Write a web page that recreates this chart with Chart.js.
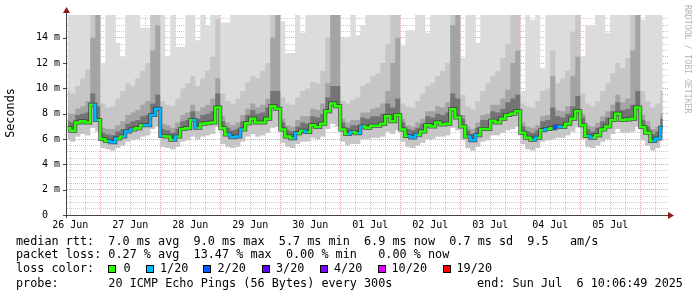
<!DOCTYPE html>
<html lang="en">
<head>
<meta charset="UTF-8">
<title>smokeping median rtt</title>
<script src="https://cdn.jsdelivr.net/npm/chart.js"></script>
<style>
  body { margin: 0; background: #fff; }
  #wrap { position: relative; width: 697px; height: 297px; }
  canvas { position: absolute; left: 0; top: 0; }
  .txt { position: absolute; font-family: 'DejaVu Sans Mono', monospace; font-size: 11.8px; line-height: 14px; white-space: pre; color: #000; }
  .box { position: absolute; top: 265px; width: 8px; height: 8px; box-sizing: border-box; border: 1px solid #000; }
</style>
</head>
<body>
<div id="wrap">
  <canvas id="smoke" width="697" height="297"></canvas>
  <div class="txt" style="left:16px;top:234px">median rtt:  7.0 ms avg  9.0 ms max  5.7 ms min  6.9 ms now  0.7 ms sd  9.5   am/s</div>
  <div class="txt" style="left:16px;top:247px">packet loss: 0.27 % avg  13.47 % max  0.00 % min   0.00 % now</div>
  <div class="txt" style="left:16px;top:261px">loss color:</div>
  <div id="losslegend"></div>
  <div class="txt" style="left:16px;top:276px">probe:       20 ICMP Echo Pings (56 Bytes) every 300s</div>
  <div class="txt" style="left:477px;top:276px">end: Sun Jul  6 10:06:49 2025</div>
</div>
<script>
// hours since 26 Jun 00:00 (one sample per 2 h)
const hours = [11,13,15,17,19,21,23,
  25,27,29,31,33,35,37,39,41,43,45,47,
  49,51,53,55,57,59,61,63,65,67,69,71,
  73,75,77,79,81,83,85,87,89,91,93,95,
  97,99,101,103,105,107,109,111,113,115,117,119,
  121,123,125,127,129,131,133,135,137,139,141,143,
  145,147,149,151,153,155,157,159,161,163,165,167,
  169,171,173,175,177,179,181,183,185,187,189,191,
  193,195,197,199,201,203,205,207,209,211,213,215,
  217,219,221,223,225,227,229,231,233,235,237,239,
  241,243,245,247,249];

const dayLabels = ['26 Jun','27 Jun','28 Jun','29 Jun','30 Jun','01 Jul','02 Jul','03 Jul','04 Jul','05 Jul'];

// median rtt (ms)
const median = [6.85,6.65,7.3,7.4,7.3,8.7,7.5,
  6.0,5.85,5.75,6.05,6.2,6.6,6.75,6.85,7.1,7.1,7.9,8.4,
  6.25,6.2,5.95,6.2,6.8,6.85,7.5,6.9,7.2,7.25,7.3,8.5,
  6.85,6.35,6.15,6.2,6.75,7.25,7.6,7.3,7.3,7.6,8.6,8.4,
  6.75,6.2,6.07,6.45,6.65,6.55,7.1,6.95,7.2,8.2,8.8,8.6,
  6.75,6.4,6.55,6.45,7.0,6.9,7.05,7.05,7.2,7.8,7.4,7.9,
  6.75,6.25,6.12,6.33,6.6,7.1,7.0,7.3,7.15,7.2,8.35,7.7,
  7.0,6.2,5.9,6.3,6.8,6.8,7.45,7.3,7.6,7.9,8.0,8.2,
  6.5,6.1,5.95,6.1,6.7,6.8,6.85,7.0,6.95,7.2,7.6,8.2,
  7.1,6.25,6.1,6.3,6.75,7.0,7.5,8.0,7.5,7.55,7.6,8.5,
  6.95,6.5,5.85,6.05,6.9];

// lost pings out of 20
const lossPings = [0,0,0,0,0,1,0,
  0,1,1,0,1,1,0,0,1,1,1,1,
  0,0,1,0,0,0,1,0,0,0,0,0,
  0,1,1,1,0,0,0,0,0,0,0,0,
  0,0,1,0,1,0,0,0,0,0,0,0,
  0,1,0,1,0,0,0,0,0,0,0,0,
  0,1,1,0,0,0,0,0,0,0,0,0,
  0,1,1,0,0,0,0,0,0,0,0,0,
  0,0,1,0,1,0,2,1,0,0,0,0,
  0,1,0,0,0,0,0,0,0,0,0,0,
  0,0,1,1,0];

// smoke: lowest ping
const smokeLow = [6.0,5.8,6.2,6.4,6.3,6.9,6.6,
  5.3,5.2,5.1,5.3,5.5,5.8,5.9,6.0,6.2,6.3,6.8,7.0,
  5.4,5.3,5.2,5.4,5.8,5.9,6.2,6.0,6.2,6.3,6.4,7.0,
  5.6,5.4,5.3,5.4,5.8,6.2,6.4,6.2,6.3,6.5,6.9,7.0,
  5.7,5.4,5.3,5.6,5.8,5.8,6.1,6.0,6.2,6.8,7.2,7.0,
  5.8,5.5,5.6,5.6,6.0,6.0,6.1,6.1,6.2,6.6,6.4,6.7,
  5.8,5.4,5.3,5.5,5.7,6.0,6.0,6.2,6.2,6.3,6.9,6.7,
  5.9,5.3,5.1,5.4,5.8,5.9,6.3,6.3,6.5,6.7,6.8,7.0,
  5.6,5.2,5.1,5.3,5.8,5.9,6.0,6.1,6.1,6.3,6.6,7.0,
  6.0,5.4,5.3,5.5,5.8,6.0,6.4,6.8,6.5,6.5,6.6,7.0,
  5.9,5.5,5.1,5.3,6.0];

// smoke: top of the darkest part just above the median
const smokeCore = [7.4,7.3,7.9,8.0,8.1,9.6,8.6,
  6.5,6.35,6.3,6.6,6.8,7.2,7.4,7.5,7.8,7.9,8.8,9.5,
  6.8,6.7,6.5,6.8,7.4,7.5,8.2,7.6,7.9,8.0,8.2,9.6,
  7.4,6.9,6.7,6.8,7.4,7.9,8.3,8.0,8.1,8.5,9.8,9.8,
  7.3,6.7,6.6,7.0,7.3,7.2,7.8,7.7,8.0,9.3,10.2,10.2,
  7.3,6.9,7.1,7.1,7.7,7.6,7.8,7.8,8.0,8.8,8.5,9.2,
  7.3,6.8,6.7,6.9,7.2,7.8,7.7,8.0,7.9,8.1,9.6,9.2,
  7.6,6.7,6.4,6.9,7.5,7.5,8.2,8.1,8.4,8.9,9.2,9.5,
  7.0,6.6,6.5,6.7,7.4,7.5,8.5,7.8,7.7,8.0,8.6,9.4,
  7.7,6.8,6.6,6.9,7.4,7.7,8.2,8.9,8.3,8.4,8.7,9.8,
  7.5,7.0,6.4,6.6,7.6];

// smoke: top of the dark grey part
const smokeDark = [8.0,8.0,8.4,8.6,9.0,14.0,16,
  6.9,6.8,6.8,7.1,7.4,7.9,8.1,8.3,8.7,9.0,13.0,15.0,
  7.2,7.1,6.9,7.3,7.9,8.1,8.7,8.2,8.5,8.7,9.2,10.8,
  7.8,7.3,7.1,7.3,7.9,8.4,8.8,8.5,8.7,9.2,14.0,16,
  7.6,7.1,7.0,7.5,7.8,7.8,8.4,8.3,8.8,10.4,16,16,
  7.6,7.3,7.5,7.5,8.1,8.1,8.4,8.5,8.8,9.8,12.0,14.0,
  7.6,7.1,7.0,7.3,7.6,8.2,8.2,8.6,8.5,8.9,15.0,16,
  7.9,7.0,6.8,7.3,7.9,8.0,8.7,8.7,9.2,9.9,12.0,13.0,
  7.3,7.0,6.9,7.1,7.8,7.9,11.0,8.3,8.2,8.6,11.0,12.5,
  8.0,7.1,7.0,7.3,7.8,8.2,8.7,9.5,8.9,9.2,13.0,16,
  7.9,7.4,6.8,7.0,8.0];

// smoke: top of the mid grey part
const smokeMid = [9.8,9.6,10.2,10.8,11.5,16,16,
  8.8,8.5,8.6,9.2,9.8,10.4,10.2,10.8,11.4,12.0,16,16,
  9.0,8.7,8.6,9.2,10.0,10.4,11.0,10.2,10.8,11.4,12.5,15.5,
  9.6,9.0,8.8,9.2,9.8,10.5,11.0,10.8,11.4,12.0,16,16,
  9.3,8.8,8.7,9.3,9.8,10.0,10.5,10.4,11.4,14.0,16,16,
  9.0,8.8,9.1,9.3,10.2,10.4,11.0,11.2,12.0,13.5,16,16,
  8.8,8.6,8.5,9.0,9.6,10.2,10.4,11.0,11.4,12.0,16,16,
  9.5,8.6,8.4,9.0,9.8,10.4,11.0,11.4,12.4,13.5,16,16,
  8.8,8.6,8.5,9.0,9.8,10.0,13.0,10.4,10.8,11.4,14.5,16,
  9.6,8.8,8.6,9.0,9.8,10.4,11.2,12.0,11.6,12.4,16,16,
  9.8,9.0,8.5,8.8,9.8];

// smoke: highest ping
const smokeHigh = [16,16,16,16,16,16,16,
  12.0,16,16,13.6,12.5,16,16,16,14.8,14.8,16,16,
  16,12.5,16,13.3,13.3,16,16,13.8,16,15.0,16,16,
  15.2,15.2,16,16,16,16,16,16,16,16,16,16,
  15.3,12.8,12.8,16,14.4,16,16,16,16,16,16,16,
  14.0,14.0,16,14.2,15.0,16,16,16,16,16,16,16,
  13.4,14.6,14.6,16,16,14.4,16,16,16,16,16,16,
  12.4,16,16,13.6,16,16,16,16,16,16,13.7,16,
  9.8,16,15.4,16,11.6,16,16,16,16,16,16,16,
  12.5,15.0,15.0,16,16,14.4,16,16,16,16,16,16,
  15.4,16,16,16,16];

const lossColor = {0: '#26ff00', 1: '#00b8ff', 2: '#0059ff', 3: '#5e00ff', 4: '#7e00ff', 10: '#dd00ff', 19: '#ff0000'};
const lossLegend = [
  {n: 0, box: 108, txt: 123.5, label: '0'},
  {n: 1, box: 145.5, txt: 160, label: '1/20'},
  {n: 2, box: 203, txt: 217.5, label: '2/20'},
  {n: 3, box: 261.5, txt: 276, label: '3/20'},
  {n: 4, box: 320, txt: 334, label: '4/20'},
  {n: 10, box: 378, txt: 391.5, label: '10/20'},
  {n: 19, box: 443, txt: 456.5, label: '19/20'}
];

const legendEl = document.getElementById('losslegend');
lossLegend.forEach(e => {
  const b = document.createElement('div');
  b.className = 'box';
  b.style.left = e.box + 'px';
  b.style.background = lossColor[e.n];
  legendEl.appendChild(b);
  const t = document.createElement('div');
  t.className = 'txt';
  t.style.left = e.txt + 'px';
  t.style.top = '261px';
  t.textContent = e.label;
  legendEl.appendChild(t);
});

const pts = arr => hours.map((h, i) => ({x: h, y: arr[i]}));

const RED = 'rgba(225,90,90,0.6)';
const GREY = 'rgba(150,150,150,0.5)';

const extras = {
  id: 'extras',
  beforeDraw(chart) {
    const c = chart.ctx;
    c.save();
    c.fillStyle = '#fff';
    c.fillRect(0, 0, chart.width, chart.height);
    c.restore();
  },
  afterDraw(chart) {
    const c = chart.ctx;
    const a = chart.chartArea;
    c.save();
    // axes
    c.strokeStyle = '#444';
    c.lineWidth = 1;
    c.beginPath();
    c.moveTo(a.left - 0.5, 12);
    c.lineTo(a.left - 0.5, a.bottom + 3);
    c.moveTo(a.left - 4, a.bottom + 0.5);
    c.lineTo(a.right + 1, a.bottom + 0.5);
    c.stroke();
    // small ticks on y axis
    const ys = chart.scales.y;
    for (let v = 0; v <= 14; v += 2) {
      const py = Math.round(ys.getPixelForValue(v)) + 0.5;
      c.beginPath();
      c.moveTo(a.left - 4, py);
      c.lineTo(a.left, py);
      c.stroke();
    }
    // arrows
    c.fillStyle = '#8b1a1a';
    c.beginPath();
    c.moveTo(a.left - 0.5, 7);
    c.lineTo(a.left - 4, 13);
    c.lineTo(a.left + 3, 13);
    c.closePath();
    c.fill();
    c.beginPath();
    c.moveTo(a.right + 5, a.bottom + 0.5);
    c.lineTo(a.right - 1, a.bottom - 3);
    c.lineTo(a.right - 1, a.bottom + 4);
    c.closePath();
    c.fill();
    // y title
    c.fillStyle = '#000';
    c.font = '11.8px "DejaVu Sans Mono"';
    c.textAlign = 'center';
    c.textBaseline = 'middle';
    c.translate(11, 113);
    c.rotate(-Math.PI / 2);
    c.fillText('Seconds', 0, 0);
    c.restore();
    // watermark
    c.save();
    c.fillStyle = '#b4b4b4';
    c.font = '8.2px "DejaVu Sans Mono"';
    c.textAlign = 'left';
    c.textBaseline = 'middle';
    c.translate(687, 5);
    c.rotate(Math.PI / 2);
    c.fillText('RRDTOOL / TOBI OETIKER', 0, 0);
    c.restore();
  }
};

Chart.defaults.font.family = '"DejaVu Sans Mono", monospace';
Chart.defaults.color = '#000';

new Chart(document.getElementById('smoke'), {
  type: 'line',
  data: {
    datasets: [
      { // 0: median coloured by loss
        data: pts(median), order: 0, borderWidth: 2.5, stepped: 'middle', fill: false,
        borderColor: '#26ff00',
        segment: { borderColor: ctx => lossColor[lossPings[ctx.p0DataIndex]] }
      },
      { // 1: dark smudge round the median
        data: pts(median), order: 1, borderWidth: 4, stepped: 'middle', fill: false,
        borderColor: 'rgba(50,50,50,0.8)'
      },
      { // 2: darkest smoke above median
        data: pts(smokeCore), order: 2, borderWidth: 0, stepped: 'middle',
        fill: {target: 1}, backgroundColor: '#747474'
      },
      { // 3: dark grey smoke
        data: pts(smokeDark), order: 3, borderWidth: 0, stepped: 'middle',
        fill: {target: 1}, backgroundColor: '#a4a4a4'
      },
      { // 4: mid smoke
        data: pts(smokeMid), order: 4, borderWidth: 0, stepped: 'middle',
        fill: {target: 6}, backgroundColor: '#c6c6c6'
      },
      { // 5: light smoke
        data: pts(smokeHigh), order: 5, borderWidth: 0, stepped: 'middle',
        fill: {target: 6}, backgroundColor: '#dcdcdc'
      },
      { // 6: lowest ping
        data: pts(smokeLow), order: 6, borderWidth: 0, stepped: 'middle', fill: false,
        borderColor: 'rgba(0,0,0,0)'
      }
    ]
  },
  options: {
    responsive: false,
    animation: false,
    devicePixelRatio: 1,
    layout: { padding: { left: 0, top: 15, right: 28, bottom: 62 } },
    elements: { point: { radius: 0 } },
    plugins: { legend: { display: false }, tooltip: { enabled: false } },
    scales: {
      x: {
        type: 'linear', min: 10.7, max: 251.5, z: 1,
        afterBuildTicks: s => {
          const t = [];
          for (let h = 12; h <= 246; h += 6) t.push({value: h});
          s.ticks = t;
        },
        afterFit: s => { s.height = 20; },
        ticks: {
          autoSkip: false, maxRotation: 0, padding: 4,
          font: { size: 10 },
          callback: v => (v % 24 === 12 ? dayLabels[(v - 12) / 24] : '')
        },
        grid: {
          drawTicks: false,
          color: ctx => (ctx.tick && ctx.tick.value % 24 === 0 ? RED : GREY)
        },
        border: { display: false, dash: [1, 1] }
      },
      y: {
        type: 'linear', min: 0, max: 15.8, z: 1,
        afterBuildTicks: s => {
          const t = [];
          for (let v = 0; v <= 15.5; v += 0.5) t.push({value: v});
          s.ticks = t;
        },
        afterFit: s => { s.width = 67; },
        ticks: {
          autoSkip: false, padding: 7,
          font: { size: 10 },
          callback: v => (v % 2 === 0 ? (v === 0 ? '0  ' : v + ' m') : '')
        },
        grid: {
          drawTicks: false,
          color: ctx => (ctx.tick && ctx.tick.value % 2 === 0 ? RED : GREY)
        },
        border: { display: false, dash: [1, 1] }
      }
    }
  },
  plugins: [extras]
});
</script>
</body>
</html>
